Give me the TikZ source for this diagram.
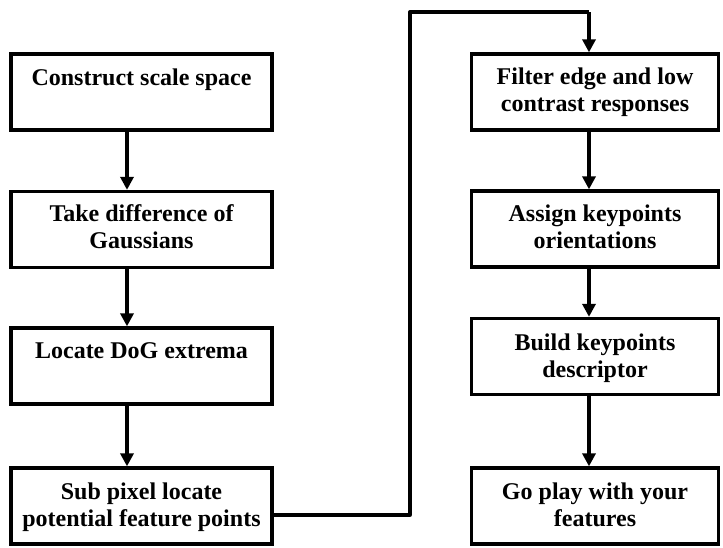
\documentclass[tikz,border=0pt]{standalone}
\usepackage{fontspec}
\setmainfont{Liberation Serif}
\usetikzlibrary{arrows.meta,calc}
\begin{document}
\begin{tikzpicture}[x=1pt,y=-1pt,
  box/.style={draw,line width=3.3pt,inner sep=0pt,minimum height=76pt},
  lbox/.style={box,minimum width=261pt},
  rbox/.style={box,minimum width=247pt},
  txt/.style={anchor=north,inner sep=0pt,align=center,font=\fontsize{24}{27}\selectfont\bfseries},
  conn/.style={line width=3.3pt,-{Triangle[width=13pt,length=13pt]}},
  link/.style={line width=3.3pt,line join=round}]
\useasboundingbox (0,0) rectangle (723,547);
% left column
\node[lbox] (b1) at (141.5,92) {};
\node[lbox] (b2) at (141.5,229.5) {};
\node[lbox] (b3) at (141.5,366) {};
\node[lbox] (b4) at (141.5,506) {};
% right column
\node[rbox] (b5) at (595,92) {};
\node[rbox] (b6) at (595,229) {};
\node[rbox] (b7) at (595,356.5) {};
\node[rbox] (b8) at (595,506) {};
% texts
\newcommand{\fl}{\rule{0pt}{17pt}}
\node[txt] (t1) at ($(b1.north)+(0,16)$) {\fl Construct scale space};
\node[txt] (t2) at ($(b2.north)+(0,14)$) {\fl Take difference of\\Gaussians};
\node[txt] (t3) at ($(b3.north)+(0,15)$) {\fl Locate DoG extrema};
\node[txt] (t4) at ($(b4.north)+(0,16)$) {\fl Sub pixel locate\\potential feature points};
\node[txt] (t5) at ($(b5.north)+(0,15)$) {\fl Filter edge and low\\contrast responses};
\node[txt] (t6) at ($(b6.north)+(0,15)$) {\fl Assign keypoints\\orientations};
\node[txt] (t7) at ($(b7.north)+(0,16)$) {\fl Build keypoints\\descriptor};
\node[txt] (t8) at ($(b8.north)+(0,16)$) {\fl Go play with your\\features};
% arrows
\draw[conn] ($(b1.south)+(-14.5,0)$) -- ($(b2.north)+(-14.5,0)$);
\draw[conn] ($(b2.south)+(-14.5,0)$) -- ($(b3.north)+(-14.5,0)$);
\draw[conn] ($(b3.south)+(-14.5,0)$) -- ($(b4.north)+(-14.5,0)$);
\draw[conn] ($(b5.south)+(-6,0)$) -- ($(b6.north)+(-6,0)$);
\draw[conn] ($(b6.south)+(-6,0)$) -- ($(b7.north)+(-6,0)$);
\draw[conn] ($(b7.south)+(-6,0)$) -- ($(b8.north)+(-6,0)$);
% long connector
\coordinate (c1) at (410,515);
\coordinate (c2) at (410,12);
\coordinate (c3) at (589,12);
\draw[link] ($(b4.east)+(0,9)$) -- (c1) -- (c2) -- (c3);
\draw[conn] (c3) -- ($(b5.north)+(-6,0)$);
\end{tikzpicture}
\end{document}
